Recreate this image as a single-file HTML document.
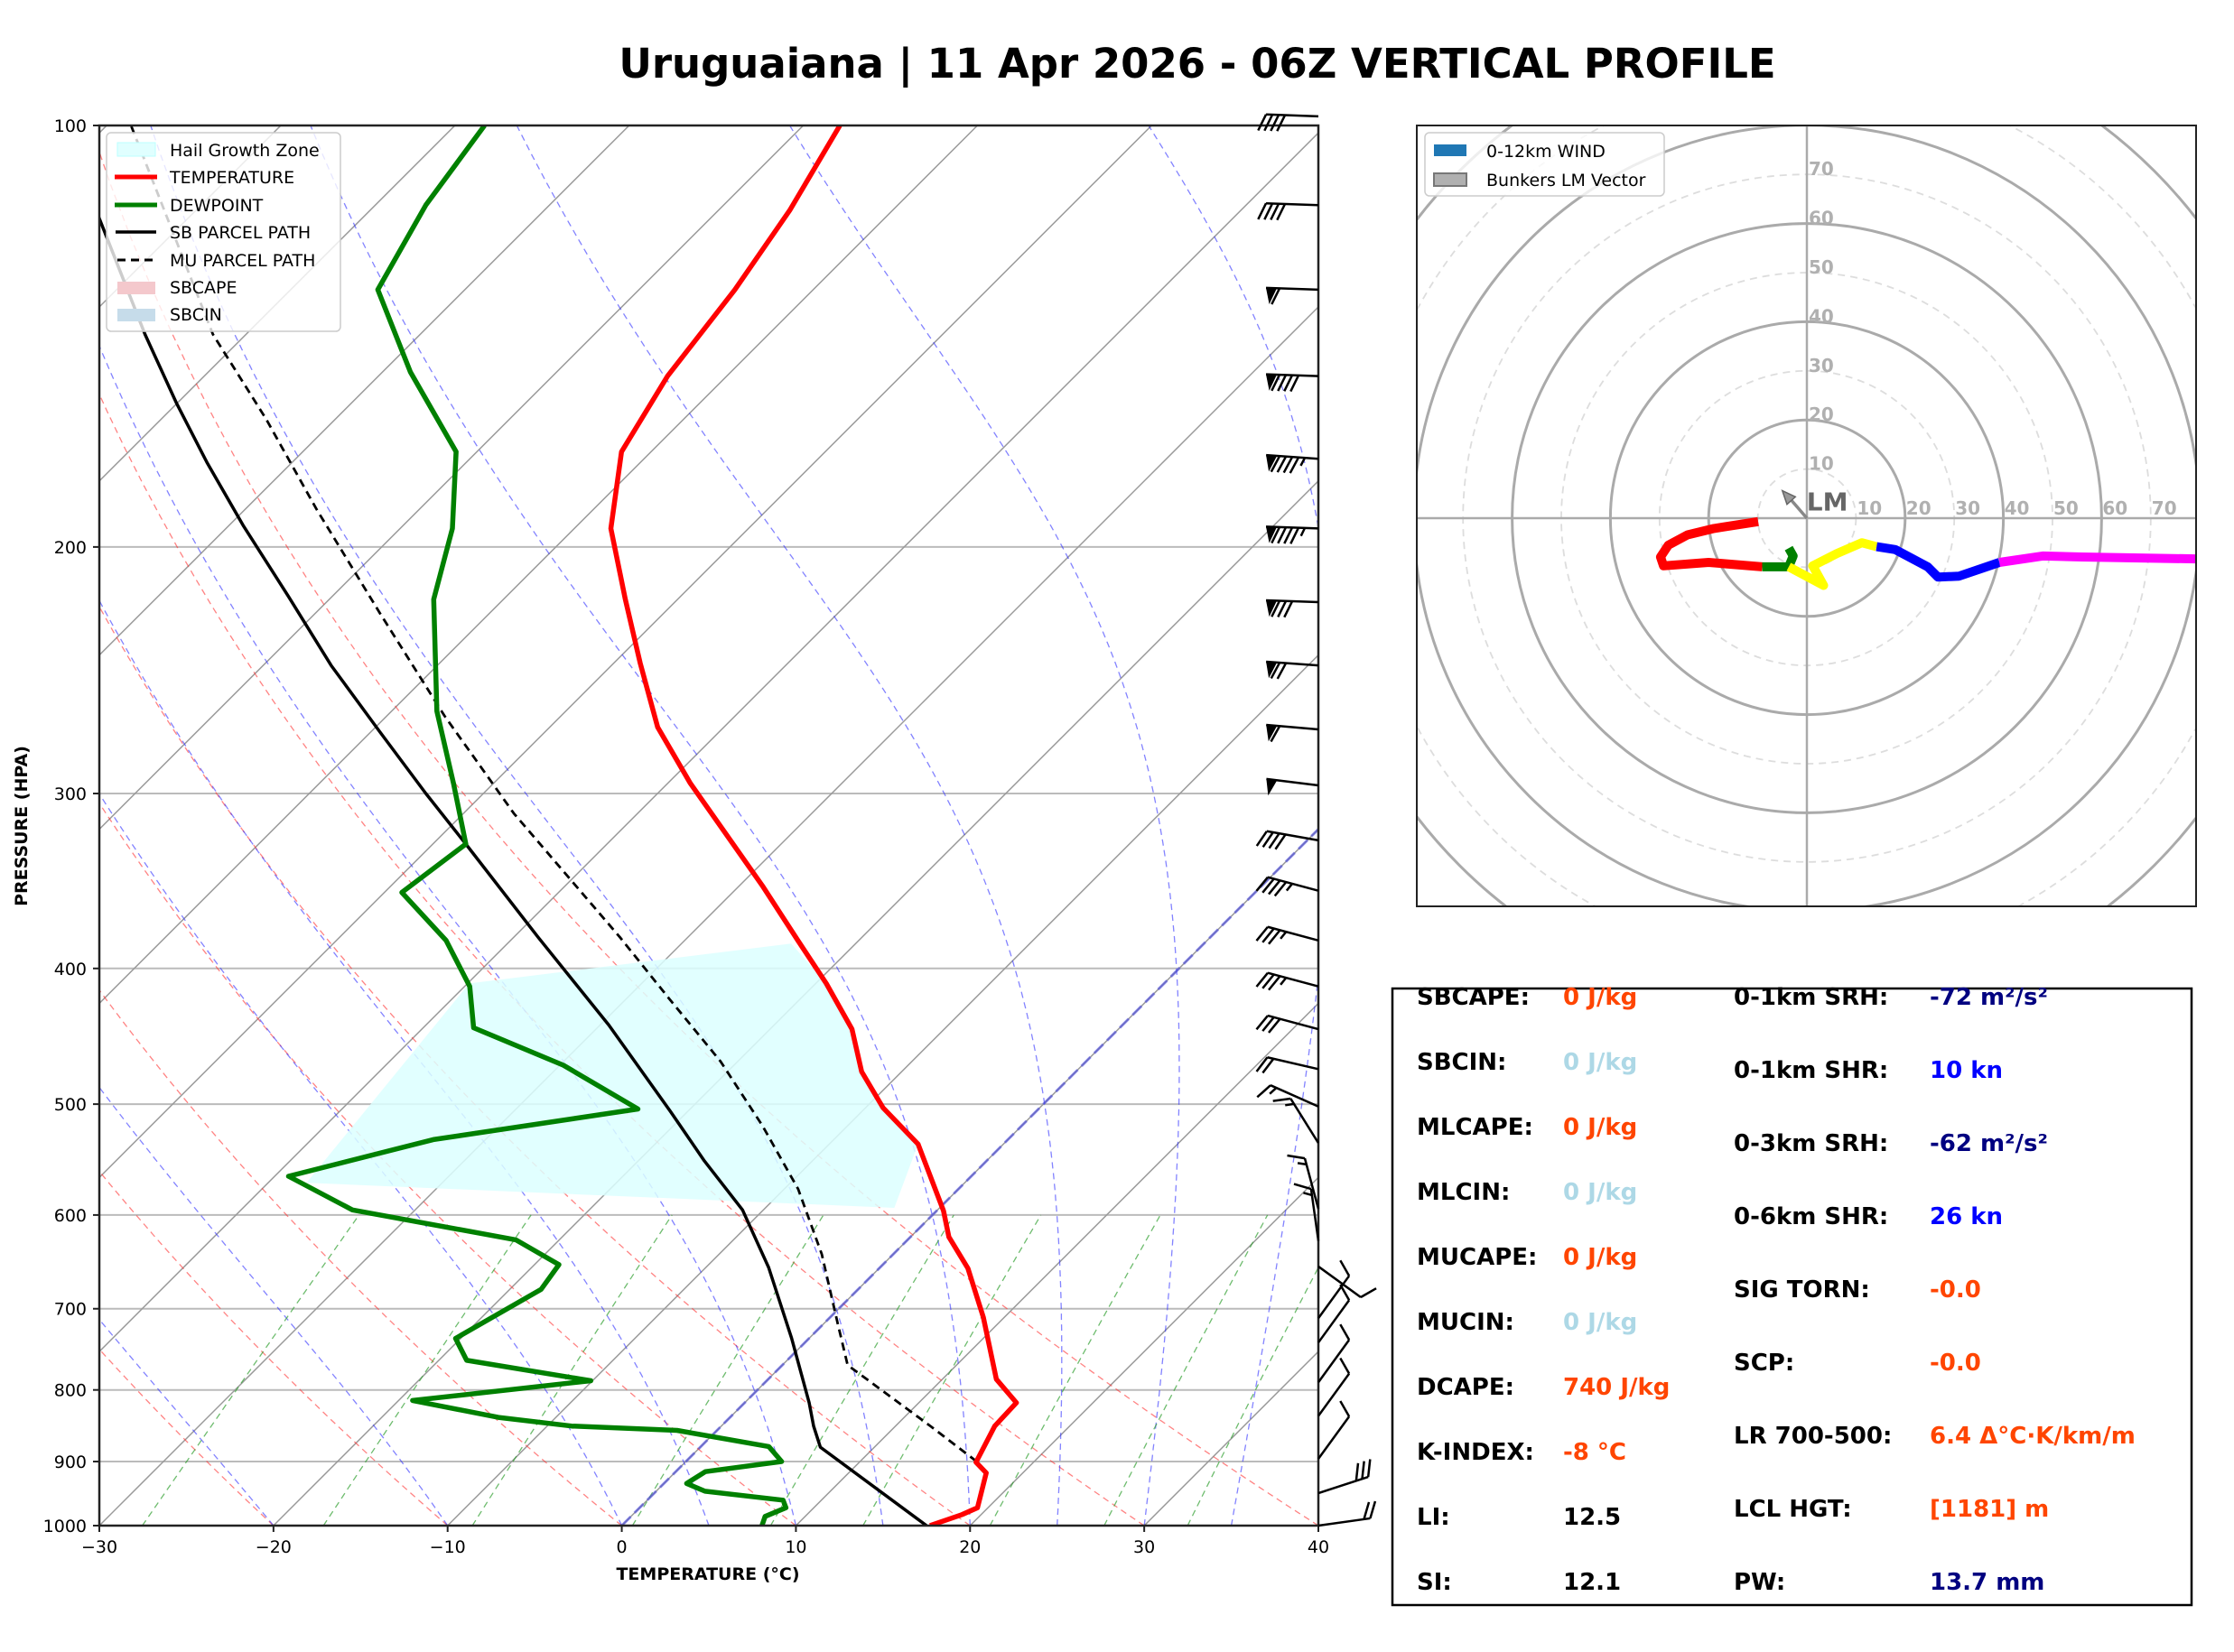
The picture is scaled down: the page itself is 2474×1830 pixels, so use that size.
<!DOCTYPE html>
<html><head><meta charset="utf-8"><title>Uruguaiana Vertical Profile</title>
<style>
html,body{margin:0;padding:0;background:#fff;}
svg{display:block;font-family:"DejaVu Sans","Liberation Sans",sans-serif;}
</style></head>
<body>
<svg id="fig" xmlns="http://www.w3.org/2000/svg" width="2474" height="1830" viewBox="0 0 2474 1830">
<defs>
<clipPath id="skewclip"><rect x="110" y="139" width="1350" height="1551"/></clipPath>
<clipPath id="hodoclip"><rect x="1569" y="139" width="863" height="865"/></clipPath>
</defs>
<rect x="0" y="0" width="2474" height="1830" fill="#fff"/>
<text x="1326" y="86" text-anchor="middle" font-size="45" font-weight="bold">Uruguaiana | 11 Apr 2026 - 06Z VERTICAL PROFILE</text>
<g id="skew">
<g id="bg" clip-path="url(#skewclip)"></g>
<g id="series" clip-path="url(#skewclip)"></g>
<rect x="110" y="139" width="1350" height="1551" fill="none" stroke="#222" stroke-width="2.5"/>
<g id="axes"></g>
<g id="barbs"></g>
<text x="784" y="1750" text-anchor="middle" font-size="19" font-weight="bold">TEMPERATURE (°C)</text>
<text x="0" y="0" transform="translate(30,915) rotate(-90)" text-anchor="middle" font-size="19" font-weight="bold">PRESSURE (HPA)</text>
<g>
<rect x="118" y="147" width="259" height="220" rx="5" fill="#fff" fill-opacity="0.8" stroke="#ccc" stroke-width="1.5"/>
<rect x="130" y="158" width="42" height="15" fill="#e0ffff" stroke="#bff"/>
<text x="188" y="173" font-size="19">Hail Growth Zone</text>
<line x1="127" y1="196" x2="174" y2="196" stroke="red" stroke-width="5"/>
<text x="188" y="203" font-size="19">TEMPERATURE</text>
<line x1="127" y1="227" x2="174" y2="227" stroke="#008000" stroke-width="5"/>
<text x="188" y="234" font-size="19">DEWPOINT</text>
<line x1="128" y1="257" x2="173" y2="257" stroke="#000" stroke-width="3.5"/>
<text x="188" y="264" font-size="19">SB PARCEL PATH</text>
<line x1="130" y1="288" x2="173" y2="288" stroke="#000" stroke-width="3" stroke-dasharray="9,6"/>
<text x="188" y="295" font-size="19">MU PARCEL PATH</text>
<rect x="130" y="312" width="42" height="14" fill="#f4c8cc"/>
<text x="188" y="325" font-size="19">SBCAPE</text>
<rect x="130" y="342" width="42" height="14" fill="#c6dcea"/>
<text x="188" y="355" font-size="19">SBCIN</text>
</g>
</g>
<g id="hodo">
<g id="hodobg" clip-path="url(#hodoclip)"></g>
<g id="hodoseries" clip-path="url(#hodoclip)"></g>
<rect x="1569" y="139" width="863" height="865" fill="none" stroke="#222" stroke-width="2"/>
<g>
<rect x="1578" y="147" width="265" height="70" rx="5" fill="#fff" fill-opacity="0.8" stroke="#ccc" stroke-width="1.5"/>
<rect x="1588" y="160" width="36" height="13" fill="#1f77b4"/>
<text x="1646" y="174" font-size="19">0-12km WIND</text>
<rect x="1588" y="192" width="36" height="14" fill="#b0b0b0" stroke="#777" stroke-width="2"/>
<text x="1646" y="206" font-size="19">Bunkers LM Vector</text>
</g>
</g>
<g id="table">
<rect x="1542" y="1095" width="885" height="683" fill="#fff" stroke="#000" stroke-width="2.5"/>
</g>
</svg>
<script>
var NS='http://www.w3.org/2000/svg';
// ---------- Skew-T data ----------
var tempP=[1000,982,971,917,901,849,817,786,710,655,622,596,534,503,474,442,410,382,349,295,269,242,218,194,171,151,131,115,100];
var tempT=[17.7,18.9,19.4,17.9,16.7,15.7,15.6,13.1,8.8,5.1,2.2,0.4,-4.9,-9.0,-12.3,-15.3,-19.4,-23.5,-28.7,-38.7,-43.8,-48.5,-53.0,-57.9,-61.7,-63.4,-64.5,-65.9,-67.9];
var dewP=[1000,985,971,959,945,933,915,900,878,855,849,837,814,788,762,735,678,651,625,595,563,530,504,469,441,412,382,353,326,295,262,218,194,171,150,131,114,100];
var dewT=[8.05,7.7,8.4,7.8,2.8,1.3,1.7,5.5,3.9,-2.3,-8.6,-13.3,-19.2,-10.1,-18.4,-20.3,-18.2,-18.6,-22.5,-33.6,-39.2,-33.0,-23.0,-29.8,-37.1,-39.7,-43.7,-49.0,-48.1,-52.3,-57.4,-64.0,-67.0,-71.2,-78.4,-85.0,-87.1,-88.3];
var sbP=[1000,879,849,817,735,654,595,549,506,439,380,326,300,271,243,217,193,174,158,141,116,100];
var sbT=[17.5,6.9,5.3,3.7,-1.0,-6.4,-11.2,-16.2,-21.0,-29.5,-38.6,-48.1,-53.3,-59.5,-66.1,-72.5,-79.2,-84.9,-90.0,-95.8,-105.3,-112];
var muP=[900,849,768,719,640,575,518,466,420,380,310,264,223,188,162,141,100];
var muT=[16.7,12.0,3.75,0.9,-4.1,-9.2,-14.9,-21.0,-27.6,-33.9,-47.1,-56.7,-66.3,-75.9,-84.0,-91.9,-108.6];
var hailP=[384,410,569,593,534,503,474,442,410,384];
var hailT=[-23.7,-39.9,-37.8,-2.6,-4.9,-9.0,-12.3,-15.3,-19.4,-23.7];
var pTicks=[100,200,300,400,500,600,700,800,900,1000];
var tTicks=[-30,-20,-10,0,10,20,30,40];
var barbP=[98.5,114,131,151,173,194,219,243,270,296,324,352,382,412,442,472,502,533,594,626,653,711,740,790,835,896,948,1000];
var barbDir=[272,272,272,272,274,272,272,274,275,277,280,285,285,285,285,283,294,328,345,352,126,36,36,36,36,36,72,82];
var barbSpd=[40,40,60,90,95,95,80,70,60,50,40,45,35,35,30,20,15,15,15,15,10,10,10,10,10,10,30,20];
// ---------- Hodograph data (knots) ----------
var hodoRedU=[-9.9,-18.9,-24.3,-28.2,-29.8,-29.2,-20,-9.1];
var hodoRedV=[-0.7,-2.1,-3.4,-5.5,-7.9,-9.7,-9.0,-9.9];
var hodoGreenU=[-9.1,-3.7,-2.8,-3.7];
var hodoGreenV=[-9.9,-9.9,-7.7,-6.1];
var hodoYellowU=[-3.7,3.4,1.2,6.1,11.2,14.2];
var hodoYellowV=[-9.9,-13.7,-9.7,-7.2,-5.0,-5.8];
var hodoBlueU=[14.2,18,24.6,26.7,31,39.2];
var hodoBlueV=[-5.8,-6.4,-9.9,-12,-11.8,-9.0];
var hodoMagU=[39.2,48,56,80];
var hodoMagV=[-9.0,-7.7,-7.9,-8.3];
var lmU=-5.0, lmV=5.6;
var ringVals=[10,20,30,40,50,60,70,80,90,100];
var ringLabels=[10,20,30,40,50,60,70];

// ---------- axis functions ----------
var L0=110,R0=1460,T0=139,B0=1690,KPX=(R0-L0)/70;
function Y(p){return T0+(B0-T0)*Math.log10(p/100);}
function X(t,p){return L0+(t+30)*KPX+(B0-Y(p));}
function mk(tag,attrs,parent){var e=document.createElementNS(NS,tag);for(var k in attrs)e.setAttribute(k,attrs[k]);parent.appendChild(e);return e;}
function pathPT(ps,ts){var d='';for(var i=0;i<ps.length;i++){d+=(i?'L':'M')+X(ts[i],ps[i]).toFixed(1)+','+Y(ps[i]).toFixed(1);}return d;}
var bg=document.getElementById('bg'),series=document.getElementById('series'),axes=document.getElementById('axes');

pTicks.forEach(function(p){
 var l=mk('line',{x1:L0,x2:R0,y1:Y(p),y2:Y(p),stroke:'#bbb','stroke-width':2},bg);
 
 
});
for(var t=-110;t<=40;t+=10){
 var l=mk('line',{x1:X(t,1000),y1:Y(1000),x2:X(t,100),y2:Y(100),stroke:'#9a9a9a','stroke-width':1.5},bg);
 
 
}
for(var th=-30;th<=40;th+=10){
 var d='';for(var p=1000;p>=100;p-=10){var tk=(th+273.15)*Math.pow(p/1000,0.2857)-273.15;d+=(p==1000?'M':'L')+X(tk,p).toFixed(1)+','+Y(p).toFixed(1);}
 var e=mk('path',{d:d,fill:'none',stroke:'#ff3030','stroke-opacity':0.6,'stroke-width':1.3,'stroke-dasharray':'7,5'},bg);
 
 
}
function es(tc){return 6.112*Math.exp(17.67*tc/(tc+243.5));}
[-30,-20,-10,0,5,10,15,20,25,30,35].forEach(function(t0){
 var T=t0+273.15,p=1000,d='M'+X(t0,1000).toFixed(1)+','+Y(1000).toFixed(1);
 while(p>100){var dp=-5;var e_=es(T-273.15),rs=0.622*e_/(p-e_);
  var num=287*T+2.5e6*rs,den=1004+2.5e6*2.5e6*rs*0.622/(287*T*T);
  T+=(num/den)/p*dp;p+=dp;d+='L'+X(T-273.15,p).toFixed(1)+','+Y(p).toFixed(1);}
 var e=mk('path',{d:d,fill:'none',stroke:'#3030ff','stroke-opacity':0.6,'stroke-width':1.3,'stroke-dasharray':'7,5'},bg);
 
 
});
[0.0004,0.001,0.002,0.004,0.007,0.01,0.016,0.024,0.032].forEach(function(w){
 var d='';for(var p=1000;p>=600;p-=20){var e_=w*p/(0.622+w),lg=Math.log(e_/6.112),td=243.5*lg/(17.67-lg);d+=(p==1000?'M':'L')+X(td,p).toFixed(1)+','+Y(p).toFixed(1);}
 var e=mk('path',{d:d,fill:'none',stroke:'#30a030','stroke-opacity':0.7,'stroke-width':1.3,'stroke-dasharray':'7,5'},bg);
 
 
});
var z=mk('line',{x1:X(0,1000),y1:Y(1000),x2:X(0,100),y2:Y(100),stroke:'#4a4ae0','stroke-opacity':0.6,'stroke-width':3,'stroke-dasharray':'14,6'},bg);



var hz=mk('path',{d:pathPT(hailP,hailT)+'Z',fill:'#dcffff','fill-opacity':0.85,stroke:'none'},series);


var sb=mk('path',{d:pathPT(sbP,sbT),fill:'none',stroke:'#000','stroke-width':3.5,'stroke-linejoin':'round'},series);


var mu=mk('path',{d:pathPT(muP,muT),fill:'none',stroke:'#000','stroke-width':2.8,'stroke-dasharray':'9,6'},series);


var dw=mk('path',{d:pathPT(dewP,dewT),fill:'none',stroke:'#008000','stroke-width':5.5,'stroke-linejoin':'round'},series);


var tl=mk('path',{d:pathPT(tempP,tempT),fill:'none',stroke:'#ff0000','stroke-width':5.5,'stroke-linejoin':'round'},series);



pTicks.forEach(function(p){
 mk('line',{x1:L0-7,x2:L0,y1:Y(p),y2:Y(p),stroke:'#222','stroke-width':2},axes);
 var tx=mk('text',{x:L0-14,y:Y(p)+7,'text-anchor':'end','font-size':19},axes);
 tx.textContent=p;
 
 
});
tTicks.forEach(function(t){
 var x=L0+(t+30)*KPX;
 mk('line',{x1:x,x2:x,y1:B0,y2:B0+7,stroke:'#222','stroke-width':2},axes);
 var tx=mk('text',{x:x,y:B0+30,'text-anchor':'middle','font-size':19},axes);
 tx.textContent=(t<0?'\u2212'+(-t):t);
 
 
});

var barbG=document.getElementById('barbs');
function drawBarb(p,dir,spd){
 var g=mk('g',{},barbG);
 
 
 var r=dir*Math.PI/180,dx=Math.sin(r),dy=-Math.cos(r),px=dy,py=-dx;
 var bx=R0,by=Y(p),Ls=58,H=18,W=12,S=7;
 var tx=bx+dx*Ls,ty=by+dy*Ls;
 mk('line',{x1:bx,y1:by,x2:tx,y2:ty,stroke:'#000','stroke-width':2.5},g);
 var s=Math.round(spd/5)*5,fl=Math.floor(s/50),fu=Math.floor((s%50)/10),hf=(s%10)>=5;
 var pos=0;
 for(var i=0;i<fl;i++){var ax=tx-dx*pos,ay=ty-dy*pos;
  var pts=[ax,ay,ax-dx*W,ay-dy*W,ax-dx*W*0.35+px*H,ay-dy*W*0.35+py*H];
  mk('polygon',{points:pts.map(function(v){return v.toFixed(1);}).join(','),fill:'#000'},g);pos+=W+3;}
 for(var i=0;i<fu;i++){var ax=tx-dx*pos,ay=ty-dy*pos;
  mk('line',{x1:ax,y1:ay,x2:ax+px*H+dx*H*0.45,y2:ay+py*H+dy*H*0.45,stroke:'#000','stroke-width':2.5},g);pos+=S;}
 if(hf){if(pos==0)pos=S;var ax=tx-dx*pos,ay=ty-dy*pos;
  mk('line',{x1:ax,y1:ay,x2:ax+px*H*0.5+dx*H*0.22,y2:ay+py*H*0.5+dy*H*0.22,stroke:'#000','stroke-width':2.5},g);}
}
for(var i=0;i<barbP.length;i++)drawBarb(barbP[i],barbDir[i],barbSpd[i]);

var HCX=2001,HCY=574,HK=5.44;
function HX(u){return HCX+u*HK;}
function HY(v){return HCY-v*HK;}
var hbg=document.getElementById('hodobg'),hs=document.getElementById('hodoseries');
ringVals.forEach(function(r){
 var c=mk('circle',{cx:HCX,cy:HCY,r:r*HK,fill:'none',stroke:r%20==0?'#aaa':'#ddd','stroke-width':r%20==0?3:1.8,'stroke-dasharray':r%20==0?'none':'8,6'},hbg);
 
 
});
mk('line',{x1:1569,x2:2432,y1:HCY,y2:HCY,stroke:'#aaa','stroke-width':2.5},hbg);
mk('line',{x1:HCX,x2:HCX,y1:139,y2:1004,stroke:'#aaa','stroke-width':2.5},hbg);
ringLabels.forEach(function(r){
 var a=mk('text',{x:HX(r)+1,y:HCY-4,'font-size':20,'font-weight':'bold',fill:'#b0b0b0'},hbg);
 a.textContent=r;
 
 
 var b=mk('text',{x:HCX+2,y:HY(r)+1,'font-size':20,'font-weight':'bold',fill:'#b0b0b0'},hbg);
 b.textContent=r;
 
 
});
function hpath(us,vs,col,name){
 var d='';for(var i=0;i<us.length;i++)d+=(i?'L':'M')+HX(us[i]).toFixed(1)+','+HY(vs[i]).toFixed(1);
 var e=mk('path',{d:d,fill:'none',stroke:col,'stroke-width':10,'stroke-linejoin':'round'},hs);
 
 
}
hpath(hodoRedU,hodoRedV,'#ff0000','hodo-segment-0-1km');
hpath(hodoGreenU,hodoGreenV,'#008000','hodo-segment-1-3km');
hpath(hodoYellowU,hodoYellowV,'#ffff00','hodo-segment-3-6km');
hpath(hodoBlueU,hodoBlueV,'#0000ff','hodo-segment-6-9km');
hpath(hodoMagU,hodoMagV,'#ff00ff','hodo-segment-9-12km');
var lmx=HX(lmU),lmy=HY(lmV);
var la=mk('line',{x1:HCX,y1:HCY,x2:lmx+6,y2:lmy+6,stroke:'#888','stroke-width':3.5},hs);


var ang=Math.atan2(lmy-HCY,lmx-HCX),ah=16;
mk('polygon',{points:[lmx,lmy,lmx-ah*Math.cos(ang-0.4),lmy-ah*Math.sin(ang-0.4),lmx-ah*Math.cos(ang+0.4),lmy-ah*Math.sin(ang+0.4)].join(','),fill:'#999',stroke:'#666','stroke-width':1.5},hs);
var lt=mk('text',{x:HX(lmU)+27,y:HY(lmV)+22,'font-size':28,'font-weight':'bold',fill:'#666'},hs);
lt.textContent='LM';



var tbl=document.getElementById('table');
var leftLabels=['SBCAPE:','SBCIN:','MLCAPE:','MLCIN:','MUCAPE:','MUCIN:','DCAPE:','K-INDEX:','LI:','SI:'];
var leftVals=['0 J/kg','0 J/kg','0 J/kg','0 J/kg','0 J/kg','0 J/kg','740 J/kg','-8 \u00b0C','12.5','12.1'];
var leftCols=['#ff4500','#add8e6','#ff4500','#add8e6','#ff4500','#add8e6','#ff4500','#ff4500','#000','#000'];
var rightLabels=['0-1km SRH:','0-1km SHR:','0-3km SRH:','0-6km SHR:','SIG TORN:','SCP:','LR 700-500:','LCL HGT:','PW:'];
var rightVals=['-72 m\u00b2/s\u00b2','10 kn','-62 m\u00b2/s\u00b2','26 kn','-0.0','-0.0','6.4 \u0394\u00b0C\u00b7K/km/m','[1181] m','13.7 mm'];
var rightCols=['#000080','#0000ff','#000080','#0000ff','#ff4500','#ff4500','#ff4500','#ff4500','#000080'];
for(var i=0;i<leftLabels.length;i++){
 var y=1113+i*72;
 var a=mk('text',{x:1569,y:y,'font-size':26,'font-weight':'bold'},tbl);a.textContent=leftLabels[i];
 
 
 var b=mk('text',{x:1731,y:y,'font-size':26,'font-weight':'bold',fill:leftCols[i]},tbl);b.textContent=leftVals[i];
 
 
}
for(var i=0;i<rightLabels.length;i++){
 var y=1113+i*81;
 var a=mk('text',{x:1920,y:y,'font-size':26,'font-weight':'bold'},tbl);a.textContent=rightLabels[i];
 
 
 var b=mk('text',{x:2137,y:y,'font-size':26,'font-weight':'bold',fill:rightCols[i]},tbl);b.textContent=rightVals[i];
 
 
}
</script>
</body></html>
